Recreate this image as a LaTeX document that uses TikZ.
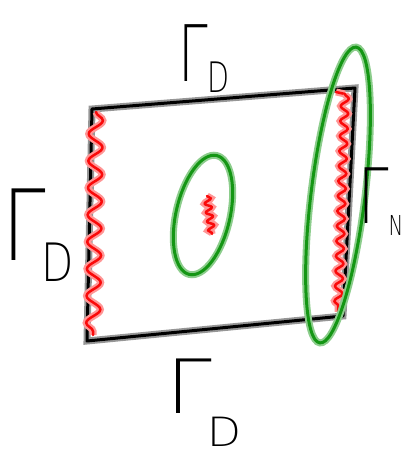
\documentclass[tikz,border=0pt]{standalone}
\usepackage{fontspec}
\IfFontExistsTF{DejaVu Sans ExtraLight}
  {\newfontfamily\handfont{DejaVu Sans ExtraLight}}
  {\newfontfamily\handfont{DejaVu Sans}}
\usetikzlibrary{decorations.pathmorphing}

\definecolor{inkgray}{RGB}{150,150,150}
\definecolor{inkred}{RGB}{250,10,10}
\definecolor{halored}{RGB}{255,150,150}
\definecolor{inkgreen}{RGB}{20,150,20}
\definecolor{halogreen}{RGB}{140,205,140}

% Letra de fronteira: Gamma com índice rebaixado.
\newcommand{\bdtext}[4]{Γ\kern#2\raisebox{#3}{\fontsize{#4}{#4}\selectfont #1}}

\tikzset{
  ink/.style={draw=black, line width=3pt, line cap=round, line join=round,
    preaction={draw=inkgray, line width=7pt}},
  redink/.style={draw=inkred, line width=2.5pt, line cap=round, line join=round,
    preaction={draw=halored, line width=7pt}},
  greenink/.style={draw=inkgreen, line width=3pt, line cap=round,
    preaction={draw=halogreen, line width=7pt}},
  bdlabel/.style={anchor=base west, inner sep=0pt, transform shape,
    font=\handfont\fontsize{78}{78}\selectfont},
}

\begin{document}
\begin{tikzpicture}[x=1pt, y=-1pt]
    \useasboundingbox (0,0) rectangle (404,457);

    % Contorno do domínio.
    \coordinate (tl) at (92,109);
    \coordinate (tr) at (355,88);
    \coordinate (br) at (343,316);
    \coordinate (bl) at (87,341);
    \draw[ink] (tl) -- (tr) -- (br) -- (bl) -- cycle;

    % Trechos ondulados da fronteira e a fissura interna.
    \coordinate (wl1) at (96,112);
    \coordinate (wl2) at (93,335);
    \draw[redink, decorate, decoration={snake, amplitude=7pt, segment length=27pt}] (wl1) -- (wl2);
    \coordinate (hook) at (336,92);
    \coordinate (wr1) at (345,94);
    \coordinate (wr2) at (338,312);
    \draw[redink] (hook) -- (wr1);
    \draw[redink, decorate, decoration={snake, amplitude=4pt, segment length=15pt}] (wr1) -- (wr2);
    \coordinate (wc1) at (207,196);
    \coordinate (wc2) at (212,234);
    \draw[redink, decorate, decoration={snake, amplitude=3.5pt, segment length=9pt}] (wc1) -- (wc2);

    % Regiões marcadas em verde.
    \coordinate (ec) at (203,215);
    \draw[greenink, rotate around={-13:(ec)}] (ec) ellipse (27 and 61);
    \coordinate (er) at (338,195);
    \draw[greenink, rotate around={-7:(er)}] (er) ellipse (27 and 149);

    % Rótulos das partes da fronteira.
    \node[bdlabel, xscale=0.68] (gdtop) at (178,82) {\bdtext{D}{0em}{-0.14em}{42}};
    \node[bdlabel, xscale=1.0, yscale=1.26] (gdleft) at (2,260) {\bdtext{D}{-0.05em}{-0.22em}{42}};
    \node[bdlabel, xscale=0.7, yscale=0.98] (gnright) at (358,223) {\bdtext{N}{0em}{-0.17em}{28}};
    \node[bdlabel, xscale=1.05, yscale=0.96] (gdbottom) at (166,413) {\bdtext{D}{-0.05em}{-0.45em}{42}};
\end{tikzpicture}
\end{document}
